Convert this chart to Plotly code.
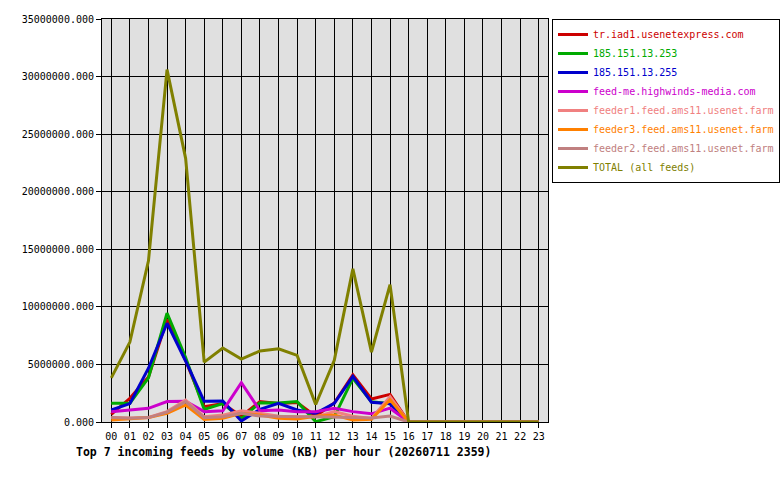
# Top 7 incoming feeds by volume (KB) per hour - innreport style chart

import plotly.graph_objs as go

# %%
# Data (KB per hour)
hours = ["%02d" % h for h in range(24)]

feed_names = ["tr.iad1.usenetexpress.com", "185.151.13.253", "185.151.13.255",
              "feed-me.highwinds-media.com", "feeder1.feed.ams11.usenet.farm",
              "feeder3.feed.ams11.usenet.farm", "feeder2.feed.ams11.usenet.farm",
              "TOTAL (all feeds)"]

tr_iad1 = [670000, 2060000, 3900000, 8900000, 5350000, 1330000, 1600000, 500000,
           1770000, 1600000, 1700000, 500000, 1650000, 4100000, 2000000, 2400000,
           0, 0, 0, 0, 0, 0, 0, 0]
ip_253 = [1620000, 1620000, 3830000, 9450000, 5600000, 1100000, 1600000, 300000,
          1680000, 1650000, 1770000, 30000, 450000, 3800000, 1750000, 1600000,
          0, 0, 0, 0, 0, 0, 0, 0]
ip_255 = [1040000, 1600000, 4670000, 8580000, 5300000, 1800000, 1830000, 90000,
          1100000, 1620000, 1040000, 750000, 1620000, 3960000, 1720000, 1580000,
          0, 0, 0, 0, 0, 0, 0, 0]
highwinds = [900000, 1040000, 1190000, 1770000, 1800000, 900000, 980000, 3420000,
             980000, 1040000, 900000, 900000, 1190000, 900000, 710000, 1200000,
             0, 0, 0, 0, 0, 0, 0, 0]
feeder1 = [380000, 350000, 400000, 900000, 1910000, 450000, 600000, 980000,
           750000, 500000, 450000, 450000, 900000, 500000, 300000, 2200000,
           0, 0, 0, 0, 0, 0, 0, 0]
feeder3 = [170000, 300000, 380000, 750000, 1480000, 230000, 320000, 750000,
           600000, 320000, 260000, 500000, 600000, 170000, 230000, 1930000,
           0, 0, 0, 0, 0, 0, 0, 0]
feeder2 = [380000, 320000, 380000, 850000, 1770000, 380000, 460000, 750000,
           520000, 460000, 460000, 460000, 460000, 400000, 350000, 520000,
           0, 0, 0, 0, 0, 0, 0, 0]
total = [3830000, 6940000, 14000000, 30600000, 22900000, 5200000, 6430000, 5460000,
         6170000, 6350000, 5780000, 1520000, 5350000, 13300000, 6070000, 11930000,
         0, 0, 0, 0, 0, 0, 0, 0]

series = [tr_iad1, ip_253, ip_255, highwinds, feeder1, feeder3, feeder2, total]
colors = ['#cc0000', '#00aa00', '#0000cc', '#cc00cc',
          '#f08080', '#ff8000', '#c08080', '#808000']

MONO = "DejaVu Sans Mono"

# %%
fig = go.Figure()
for name, y, c in zip(feed_names, series, colors):
    fig.add_trace(go.Scatter(x=hours, y=y, mode='lines',
                             name="<span style='color:%s'>%s</span>" % (c, name),
                             line=dict(color=c, width=3)))

fig.update_layout(
    width=780, height=480,
    paper_bgcolor='white', plot_bgcolor='#e0e0e0',
    margin=dict(l=102, r=232, t=19, b=58, autoexpand=False),
    font=dict(family=MONO, size=10, color='black'),
    showlegend=True,
    legend=dict(x=1.009, y=1.0, xanchor='left', yanchor='top',
                bgcolor='white', bordercolor='black', borderwidth=1,
                font=dict(family=MONO, size=10), tracegroupgap=0),
    xaxis=dict(type='category', range=[-0.5, 23.5],
               showgrid=True, gridcolor='black', gridwidth=1,
               showline=True, linecolor='black', linewidth=1, mirror=True,
               ticks='outside', ticklen=5, tickcolor='black',
               tickfont=dict(family=MONO, size=10)),
    yaxis=dict(range=[0, 35000000], dtick=5000000, tickformat='.3f',
               showgrid=True, gridcolor='black', gridwidth=1,
               showline=True, linecolor='black', linewidth=1, mirror=True,
               ticks='outside', ticklen=5, tickcolor='black', zeroline=False,
               tickfont=dict(family=MONO, size=10)),
    annotations=[dict(text="<b>Top 7 incoming feeds by volume (KB) per hour (20260711 2359)</b>",
                      xref='paper', yref='paper', x=-0.063, y=-0.075,
                      xanchor='left', yanchor='middle', showarrow=False,
                      font=dict(family=MONO, size=11.5, color='black'))],
)

# page has a default body margin; drop it so the figure sits at the corner
fig.write_html("out.html", config={'displayModeBar': False},
               post_script="document.body.style.margin='0';")
